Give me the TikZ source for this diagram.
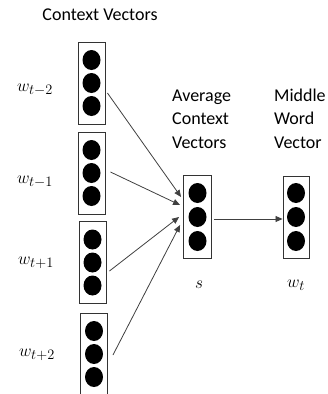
\documentclass[tikz,border=0pt]{standalone}
\usepackage{fontspec}
\setmainfont{Carlito}
\usetikzlibrary{arrows.meta,shapes.geometric}
\tikzset{
  vec/.style={draw=black!80, line width=0.9pt, minimum width=27pt, minimum height=82pt, inner sep=0pt},
  dot/.style={ellipse, fill=black, minimum width=18pt, minimum height=20pt, inner sep=0pt},
  arr/.style={draw=black!75, line width=0.8pt, -{Triangle[length=7pt,width=6pt]}},
  lbl/.style={font=\fontsize{18}{22}\selectfont, inner sep=0pt},
  mlbl/.style={font=\fontsize{19}{22}\selectfont, inner sep=0pt},
  para/.style={font=\fontsize{18}{23.5}\selectfont, align=left, inner sep=0pt, anchor=north west}
}
\begin{document}
\begin{tikzpicture}[x=1pt,y=-1pt]
\useasboundingbox (0,0) rectangle (327,394);
% context vector boxes
\node[vec] (b1) at (91.5,83) {};
\node[vec] (b2) at (91.5,173) {};
\node[vec] (b3) at (92.5,262.5) {};
\node[vec] (b4) at (94,354) {};
\foreach \b in {b1,b2,b3,b4}{
  \node[dot] at ([yshift=23pt]\b.center) {};
  \node[dot] at (\b.center) {};
  \node[dot] at ([yshift=-23pt]\b.center) {};
}
% average and middle boxes
\node[vec, minimum width=28pt, minimum height=83pt] (avg) at (197.5,217) {};
\node[vec, minimum width=26pt, minimum height=82pt] (mid) at (296,217) {};
\foreach \b in {avg,mid}{
  \node[dot] at ([yshift=24pt]\b.center) {};
  \node[dot] at (\b.center) {};
  \node[dot] at ([yshift=-24pt]\b.center) {};
}
% labels
\node[lbl] (ctx) at (100,15) {Context Vectors};
\node[mlbl] (l1) at (35,90) {$w_{t-2}$};
\node[mlbl] (l2) at (35,182) {$w_{t-1}$};
\node[mlbl] (l3) at (36,263) {$w_{t+1}$};
\node[mlbl] (l4) at (37,355) {$w_{t+2}$};
\node[para] (avgt) at (172,89.5) {Average\\Context\\Vectors};
\node[para] (midt) at (274,88.5) {Middle\\Word\\Vector};
\node[mlbl] (s) at (199,285) {$s$};
\node[mlbl] (wt) at (296,285) {$w_t$};
% arrows
\coordinate (e1) at ([xshift=-2pt,yshift=20pt]avg.west);
\coordinate (e2) at ([xshift=-3pt,yshift=12pt]avg.west);
\coordinate (e3) at ([xshift=-4pt,yshift=0pt]avg.west);
\coordinate (e4) at ([xshift=-3pt,yshift=-8pt]avg.west);
\draw[arr] ([xshift=2pt,yshift=-10pt]b1.east) -- (e1);
\draw[arr] ([xshift=5pt,yshift=1pt]b2.east) -- (e2);
\draw[arr] ([xshift=3pt,yshift=-8.5pt]b3.east) -- (e3);
\draw[arr] ([xshift=5pt,yshift=-1pt]b4.east) -- (e4);
\draw[arr] ([xshift=2pt,yshift=-2pt]avg.east) -- ([yshift=-2pt]mid.west);
\end{tikzpicture}
\end{document}
